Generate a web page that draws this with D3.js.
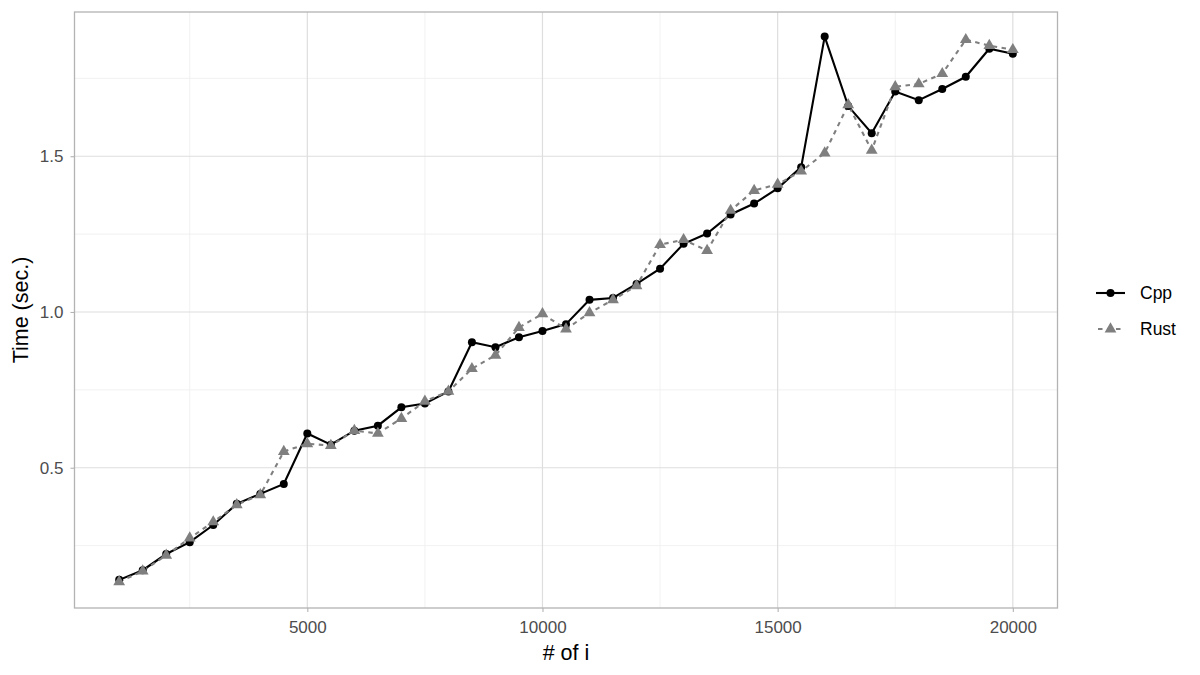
<!DOCTYPE html>
<html><head><meta charset="utf-8">
<script src="https://cdn.jsdelivr.net/npm/d3@7"></script>
<style>body{margin:0;background:#fff}svg{display:block}text{font-family:"Liberation Sans",Arial,sans-serif}</style>
</head><body>
<svg id="c" width="1200" height="675"></svg>
<script>
const iters = [1000,1500,2000,2500,3000,3500,4000,4500,5000,5500,6000,6500,7000,7500,8000,8500,9000,9500,10000,10500,11000,11500,12000,12500,13000,13500,14000,14500,15000,15500,16000,16500,17000,17500,18000,18500,19000,19500,20000];
const cppTime = [0.140,0.171,0.223,0.261,0.316,0.384,0.416,0.448,0.610,0.574,0.619,0.635,0.694,0.706,0.745,0.903,0.887,0.919,0.939,0.961,1.039,1.045,1.090,1.139,1.219,1.252,1.313,1.348,1.397,1.465,1.884,1.661,1.574,1.708,1.680,1.716,1.755,1.845,1.829];
const rustTime = [0.134,0.168,0.219,0.274,0.326,0.381,0.413,0.552,0.577,0.571,0.619,0.610,0.658,0.713,0.745,0.818,0.861,0.950,0.994,0.945,0.997,1.039,1.084,1.216,1.232,1.197,1.326,1.390,1.410,1.452,1.510,1.665,1.519,1.723,1.732,1.765,1.874,1.855,1.842];
const seriesNames = ["Cpp","Rust"];
const xMajor = [5000,10000,15000,20000];
const xMinor = [2500,7500,12500,17500];
const yMajor = [0.5,1.0,1.5];
const yMinor = [0.25,0.75,1.25,1.75];
const xTitle = "# of i";
const yTitle = "Time (sec.)";

const svg = d3.select("#c");
const L = 74.5, R = 1057.5, T = 12, B = 608;
const x = d3.scaleLinear().domain([50,20950]).range([L,R]);
const y = d3.scaleLinear().domain([0.0497,1.963]).range([B,T]);

const g = svg.append("g");
g.selectAll(".xmin").data(xMinor).join("line").attr("x1",d=>x(d)).attr("x2",d=>x(d)).attr("y1",T).attr("y2",B).attr("stroke","#EDEDED").attr("stroke-width",0.8);
g.selectAll(".ymin").data(yMinor).join("line").attr("y1",d=>y(d)).attr("y2",d=>y(d)).attr("x1",L).attr("x2",R).attr("stroke","#EDEDED").attr("stroke-width",0.8);
g.selectAll(".xmaj").data(xMajor).join("line").attr("x1",d=>x(d)).attr("x2",d=>x(d)).attr("y1",T).attr("y2",B).attr("stroke","#DEDEDE").attr("stroke-width",1.2);
g.selectAll(".ymaj").data(yMajor).join("line").attr("y1",d=>y(d)).attr("y2",d=>y(d)).attr("x1",L).attr("x2",R).attr("stroke","#DEDEDE").attr("stroke-width",1.2);

const xAxis = d3.axisBottom(x).tickValues(xMajor).tickFormat(d3.format("d")).tickSize(4).tickPadding(8.5);
const yAxis = d3.axisLeft(y).tickValues(yMajor).tickFormat(d3.format(".1f")).tickSize(4).tickPadding(7);
const xa = svg.append("g").attr("transform",`translate(0,${B})`).call(xAxis);
const ya = svg.append("g").attr("transform",`translate(${L},0)`).call(yAxis);
[xa,ya].forEach(a=>{
  a.select(".domain").remove();
  a.selectAll(".tick line").attr("stroke","#B3B3B3").attr("stroke-width",1.1);
  a.selectAll(".tick text").attr("fill","#4D4D4D").style("font-size","17px");
});

const lineGen = d3.line().x(d=>x(d[0])).y(d=>y(d[1]));
const cppData = iters.map((v,i)=>[v,cppTime[i]]);
const rustData = iters.map((v,i)=>[v,rustTime[i]]);
svg.append("path").datum(cppData).attr("d",lineGen).attr("fill","none").attr("stroke","#000").attr("stroke-width",2.1);
svg.append("path").datum(rustData).attr("d",lineGen).attr("fill","none").attr("stroke","#7F7F7F").attr("stroke-width",2.1).attr("stroke-dasharray","4.5,4.5");

const tri = d3.symbol().type(d3.symbolTriangle).size(60);
svg.selectAll(".cp").data(cppData).join("circle").attr("cx",d=>x(d[0])).attr("cy",d=>y(d[1])).attr("r",4).attr("fill","#000");
svg.selectAll(".rp").data(rustData).join("path").attr("d",tri).attr("transform",d=>`translate(${x(d[0])},${y(d[1])})`).attr("fill","#7F7F7F");

svg.append("rect").attr("x",L).attr("y",T).attr("width",R-L).attr("height",B-T).attr("fill","none").attr("stroke","#B3B3B3").attr("stroke-width",1.3);

svg.append("text").attr("x",(L+R)/2).attr("y",660).attr("text-anchor","middle").style("font-size","21.5px").attr("fill","#000").text(xTitle);
svg.append("text").attr("transform",`translate(27.5,${(T+B)/2}) rotate(-90)`).attr("text-anchor","middle").style("font-size","21.5px").attr("fill","#000").text(yTitle);

const lg = svg.append("g");
const ly = [293,329];
lg.append("line").attr("x1",1096).attr("x2",1125).attr("y1",ly[0]).attr("y2",ly[0]).attr("stroke","#000").attr("stroke-width",2.1);
lg.append("circle").attr("cx",1110.5).attr("cy",ly[0]).attr("r",4).attr("fill","#000");
lg.append("line").attr("x1",1096).attr("x2",1125).attr("y1",ly[1]).attr("y2",ly[1]).attr("stroke","#7F7F7F").attr("stroke-width",2.1).attr("stroke-dasharray","4.5,4.5").attr("stroke-dashoffset",-2);
lg.append("path").attr("d",tri).attr("transform",`translate(1110.5,${ly[1]})`).attr("fill","#7F7F7F");
lg.selectAll(".lt").data(seriesNames).join("text").attr("x",1140).attr("y",(d,i)=>ly[i]).attr("dy","0.35em").style("font-size","17.5px").attr("fill","#000").text(d=>d);
</script>
</body></html>
